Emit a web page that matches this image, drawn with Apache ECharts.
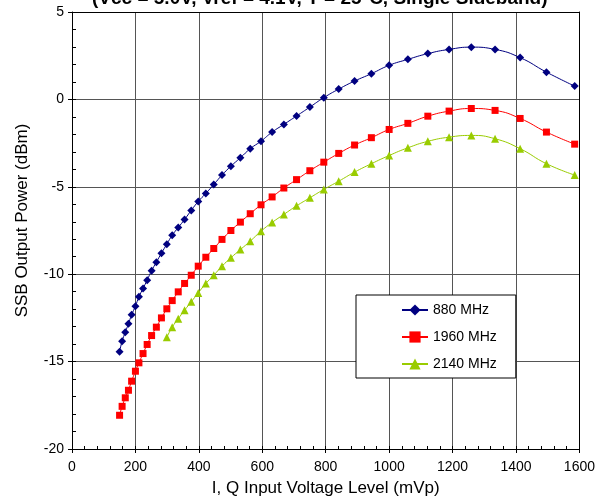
<!DOCTYPE html>
<html><head><meta charset="utf-8">
<script src="https://cdn.jsdelivr.net/npm/echarts@6/dist/echarts.min.js"></script>
<style>html,body{margin:0;padding:0;background:#fff}#c{width:598px;height:502px}</style>
</head><body><div id="c"></div>
<script>
// Input level (mVp) for 880 / 1960 MHz curves
const xMv = [150,158,168,178,188,200,211,224,237,251,266,282,299,316,335,355,376,398,422,447,473,501,531,562,596,631,668,708,750,794,841,891,944,1000,1059,1122,1189,1259,1334,1413,1496,1585];
// SSB output power (dBm)
const p880 = [-14.44,-13.83,-13.32,-12.84,-12.32,-11.83,-11.29,-10.82,-10.34,-9.80,-9.31,-8.80,-8.28,-7.77,-7.33,-6.87,-6.35,-5.84,-5.38,-4.87,-4.33,-3.82,-3.34,-2.82,-2.39,-1.87,-1.43,-0.95,-0.44,0.10,0.59,1.05,1.47,1.95,2.29,2.62,2.86,2.99,2.86,2.39,1.56,0.76];
const p1960 = [-18.07,-17.56,-17.07,-16.64,-16.12,-15.55,-15.07,-14.54,-14.02,-13.51,-13.03,-12.50,-11.98,-11.51,-11.01,-10.53,-10.06,-9.54,-9.03,-8.53,-8.01,-7.50,-7.02,-6.54,-6.03,-5.58,-5.07,-4.59,-4.08,-3.59,-3.09,-2.61,-2.19,-1.72,-1.37,-0.96,-0.67,-0.52,-0.63,-1.09,-1.87,-2.56];
// 2140 MHz curve starts later
const xMv2140 = [299,316,335,355,376,398,422,447,473,501,531,562,596,631,668,708,750,794,841,891,944,1000,1059,1122,1189,1259,1334,1413,1496,1585];
const p2140 = [-13.61,-13.03,-12.55,-12.06,-11.58,-11.07,-10.53,-10.06,-9.54,-9.06,-8.59,-8.11,-7.54,-7.04,-6.58,-6.09,-5.63,-5.15,-4.68,-4.16,-3.68,-3.21,-2.77,-2.40,-2.16,-2.06,-2.25,-2.82,-3.68,-4.33];
const seriesNames = ['880 MHz','1960 MHz','2140 MHz'];
const titleText = '(Vcc = 5.0V, Vref = 4.1V, T = 25\u00B0C, Single Sideband)';
const xName = 'I, Q Input Voltage Level (mVp)';
const yName = 'SSB Output Power (dBm)';

const pair = (xs, ys) => xs.map((x, i) => [x, ys[i]]);
const FONT = 'Liberation Sans, Arial, Helvetica, sans-serif';
const gridLine = { show: true, lineStyle: { color: '#555', width: 1 } };
const plain = v => String(v);
const blackLine = { show: true, onZero: false, lineStyle: { color: '#000', width: 1 } };
const helperAxis = (extra) => Object.assign({
  type: 'value', axisLabel: { show: false }, splitLine: { show: false }, minorSplitLine: { show: false }
}, extra);

const chart = echarts.init(document.getElementById('c'), null, { renderer: 'canvas' });
chart.setOption({
  animation: false,
  backgroundColor: '#fff',
  textStyle: { fontFamily: FONT, color: '#000' },
  title: {
    text: titleText, left: 92, top: -11, padding: 0,
    textStyle: { fontFamily: FONT, fontSize: 19, fontWeight: 'bold', color: '#000' }
  },
  grid: { left: 72, right: 18, top: 12, bottom: 53, show: false, containLabel: false },
  legend: {
    orient: 'vertical', left: 356, top: 295, padding: [8, 19, 7, 45],
    itemGap: 13, itemWidth: 26, itemHeight: 14,
    borderColor: '#000', borderWidth: 1, backgroundColor: '#fff',
    textStyle: { fontFamily: FONT, fontSize: 14, color: '#000' },
    data: seriesNames
  },
  xAxis: [{
    type: 'value', min: 0, max: 1600, interval: 200, position: 'bottom',
    name: xName, nameLocation: 'middle', nameGap: 31,
    nameTextStyle: { fontFamily: FONT, fontSize: 17, color: '#000' },
    axisLine: blackLine,
    axisTick: { show: true, length: 4, lineStyle: { color: '#000' } },
    axisLabel: { fontFamily: FONT, fontSize: 14, color: '#000', margin: 11, formatter: plain },
    splitLine: gridLine
  }, helperAxis({
    // minor ticks (inside)
    min: 0, max: 1600, interval: 40, position: 'bottom',
    axisLine: { show: false, onZero: false },
    axisTick: { show: true, inside: true, length: 3, lineStyle: { color: '#000', width: 1 } }
  }), helperAxis({
    // top border
    min: 0, max: 1600, interval: 200, position: 'top',
    axisLine: blackLine, axisTick: { show: false }
  })],
  yAxis: [{
    type: 'value', min: -20, max: 5, interval: 5, position: 'left',
    name: yName, nameLocation: 'middle', nameGap: 41, nameRotate: 90,
    nameTextStyle: { fontFamily: FONT, fontSize: 17, color: '#000', padding: [0, 0, 0, 20] },
    axisLine: blackLine,
    axisTick: { show: true, length: 4, lineStyle: { color: '#000' } },
    axisLabel: { fontFamily: FONT, fontSize: 14, color: '#000', margin: 8, formatter: plain },
    splitLine: gridLine
  }, helperAxis({
    // minor ticks (inside)
    min: -20, max: 5, interval: 1, position: 'left',
    axisLine: { show: false, onZero: false },
    axisTick: { show: true, inside: true, length: 4, lineStyle: { color: '#000', width: 1 } }
  }), helperAxis({
    // right border
    min: -20, max: 5, interval: 5, position: 'right',
    axisLine: blackLine, axisTick: { show: false }
  })],
  series: [{
    name: seriesNames[0], type: 'line', smooth: true, data: pair(xMv, p880),
    symbol: 'diamond', symbolSize: 8,
    lineStyle: { color: '#000080', width: 1 }, itemStyle: { color: '#000080' }, z: 4
  }, {
    name: seriesNames[1], type: 'line', smooth: true, data: pair(xMv, p1960),
    symbol: 'rect', symbolSize: 7,
    lineStyle: { color: '#ff0000', width: 1 }, itemStyle: { color: '#ff0000' }, z: 3
  }, {
    name: seriesNames[2], type: 'line', smooth: true, data: pair(xMv2140, p2140),
    symbol: 'triangle', symbolSize: 8,
    lineStyle: { color: '#99cc00', width: 1 }, itemStyle: { color: '#99cc00' }, z: 2
  }]
});
</script></body></html>
